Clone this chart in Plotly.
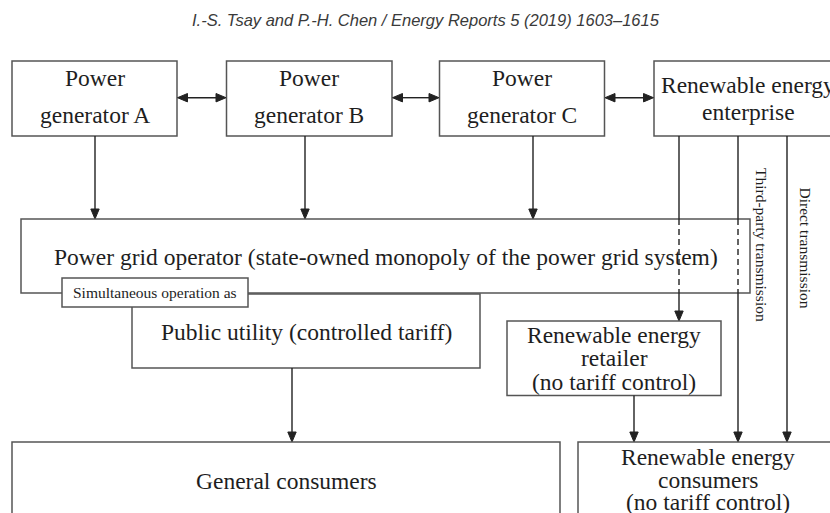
import plotly.graph_objects as go

# ---- content (text) ----
header_text = "I.-S. Tsay and P.-H. Chen / Energy Reports 5 (2019) 1603–1615"
top_labels = [["Power", "generator A"], ["Power", "generator B"],
              ["Power", "generator C"], ["Renewable energy", "enterprise"]]
grid_label = ["Power grid operator (state-owned monopoly of the power grid system)"]
sim_label = ["Simultaneous operation as"]
utility_label = ["Public utility (controlled tariff)"]
retailer_label = ["Renewable energy", "retailer", "(no tariff control)"]
general_label = ["General consumers"]
re_consumer_label = ["Renewable energy", "consumers", "(no tariff control)"]
side_labels = ["Third-party transmission", "Direct transmission"]

# ---- layout geometry (pixels, y downward, page coordinates) ----
W, H = 830, 513
top_boxes = [(12, 61, 177, 136), (226.5, 61, 392, 136), (439.5, 61, 604.5, 136), (654, 61, 842, 136)]
top_line_y = [78, 115]
top_line_y_re = [85, 112]
grid_box = (21, 219, 750, 293)
util_box = (132, 294, 480, 368)
sim_box = (62, 278, 248, 307)
ret_box = (507, 321, 721, 395.5)
gen_box = (12, 442, 560, 530)
rec_box = (578, 442, 838, 530)

BIG = 23.5
SMALL = 15.5
FONT = "Liberation Serif, Times New Roman, serif"
BORDER = "#555555"
LINE = "#222222"
TXT = "#1e1e1e"

shapes = []
annotations = []


def rect(b, fill="rgba(0,0,0,0)", width=1.5):
    shapes.append(dict(type="rect", x0=b[0], y0=b[1], x1=b[2], y1=b[3],
                       line=dict(color=BORDER, width=width), fillcolor=fill, layer="above"))


def line(x0, y0, x1, y1, dash="solid", width=1.4):
    shapes.append(dict(type="line", x0=x0, y0=y0, x1=x1, y1=y1,
                       line=dict(color=LINE, width=width, dash=dash), layer="above"))


def head(x, y, direction):
    L, hw = 10, 4.2
    if direction == "down":
        p = f"M{x},{y} L{x-hw},{y-L} L{x+hw},{y-L} Z"
    elif direction == "left":
        p = f"M{x},{y} L{x+L},{y-hw} L{x+L},{y+hw} Z"
    else:
        p = f"M{x},{y} L{x-L},{y-hw} L{x-L},{y+hw} Z"
    shapes.append(dict(type="path", path=p, fillcolor=LINE, line=dict(color=LINE, width=1), layer="above"))


def text(x, y, s, size=BIG, angle=0, color=TXT, family=FONT):
    annotations.append(dict(x=x, y=y, xref="x", yref="y", text=s, showarrow=False,
                            textangle=angle, xanchor="center", yanchor="middle",
                            font=dict(family=family, size=size, color=color)))


# header
text(426, 20, "<i>" + header_text + "</i>", size=16.5, color="#3a3a3a",
     family="Liberation Sans, Arial, sans-serif")

# top boxes
for i, (b, lab) in enumerate(zip(top_boxes, top_labels)):
    rect(b)
    ys = top_line_y_re if i == 3 else top_line_y
    cx = (b[0] + b[2]) / 2
    for yy, s in zip(ys, lab):
        text(cx, yy, s)

# double arrows between top boxes
for a, b in zip(top_boxes[:-1], top_boxes[1:]):
    y = 97.7
    line(a[2] + 8, y, b[0] - 8, y)
    head(a[2] + 0.5, y, "left")
    head(b[0] - 0.5, y, "right")

# arrows from generators to grid
for x in (95, 305, 533):
    line(x, 136, x, grid_box[1] - 8)
    head(x, grid_box[1], "down")

# grid box and utility
rect(grid_box)
text((grid_box[0] + grid_box[2]) / 2, 257, grid_label[0])
rect(util_box)
text((util_box[0] + util_box[2]) / 2, 332, utility_label[0])
rect(sim_box, fill="white")
text((sim_box[0] + sim_box[2]) / 2, 292.5, sim_label[0], size=SMALL)

# utility -> general consumers
line(292, util_box[3], 292, gen_box[1] - 8)
head(292, gen_box[1], "down")

# renewable enterprise lines
x1, x2, x3 = 679, 738, 787
line(x1, 136, x1, grid_box[1])
line(x1, grid_box[1], x1, grid_box[3], dash="6px,4px")
line(x1, grid_box[3], x1, ret_box[1] - 8)
head(x1, ret_box[1], "down")

line(x2, 136, x2, grid_box[1])
line(x2, grid_box[1], x2, grid_box[3], dash="6px,4px")
line(x2, grid_box[3], x2, rec_box[1] - 8)
head(x2, rec_box[1], "down")

line(x3, 136, x3, rec_box[1] - 8)
head(x3, rec_box[1], "down")

text(762, 245, side_labels[0], size=SMALL, angle=90)
text(805, 247.5, side_labels[1], size=SMALL, angle=90)

# retailer
rect(ret_box)
for yy, s in zip([335, 358, 382], retailer_label):
    text((ret_box[0] + ret_box[2]) / 2, yy, s)
line(634, ret_box[3], 634, rec_box[1] - 8)
head(634, rec_box[1], "down")

# consumers
rect(gen_box)
text((gen_box[0] + gen_box[2]) / 2, 481, general_label[0])
rect(rec_box)
for yy, s in zip([457, 479.5, 502], re_consumer_label):
    text(708, yy, s)

fig = go.Figure()
fig.update_layout(
    width=W, height=H, margin=dict(l=0, r=0, t=0, b=0),
    paper_bgcolor="white", plot_bgcolor="white",
    xaxis=dict(range=[0, W], visible=False, fixedrange=True),
    yaxis=dict(range=[H, 0], visible=False, fixedrange=True),
    shapes=shapes, annotations=annotations, showlegend=False,
)
fig.write_html(
    "out.html",
    config={"displayModeBar": False},
    post_script="document.body.style.margin='0';document.body.style.overflow='hidden';",
)
